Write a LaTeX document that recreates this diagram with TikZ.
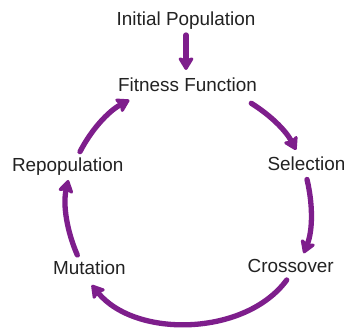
\documentclass[tikz,border=0pt]{standalone}
\usepackage{fontspec}
\setmainfont{Liberation Sans}
\usetikzlibrary{arrows.meta}
\definecolor{pur}{RGB}{126,30,140}
\definecolor{txt}{RGB}{34,34,34}
\begin{document}
\begin{tikzpicture}[x=1pt,y=1pt,
  lbl/.style={inner sep=0pt, anchor=base, text=txt, font=\fontsize{18.9}{22}\selectfont},
  arr/.style={draw=pur, line width=5.3pt, line cap=round,
    -{Stealth[length=15pt,width=18pt,inset=3pt,round]}}]
\useasboundingbox (0,0) rectangle (344,329);
\fill[white] (0,0) rectangle (344,329);
\node[lbl] (init) at (186,303) {Initial Population};
\node[lbl] (fit) at (187.5,237) {Fitness Function};
\node[lbl] (sel) at (306.5,158.5) {Selection};
\node[lbl] (cro) at (290.7,57) {Crossover};
\node[lbl] (mut) at (89.3,55) {Mutation};
\node[lbl] (rep) at (67.7,157.5) {Repopulation};
\draw[arr] ([shift={(0,-9)}]init.base) -- ([shift={(-1.5,22)}]fit.base);
\draw[arr] ([shift={(63.8,-11.3)}]fit.base) to[out=-31.8,in=117.4,looseness=0.87] ([shift={(-10.5,20.5)}]sel.base);
\draw[arr] ([shift={(0.5,-9)}]sel.base) to[out=-76.6,in=68.4,looseness=0.87] ([shift={(13,18.7)}]cro.base);
\draw[arr] ([shift={(-4,-8)}]cro.base) to[out=-126.2,in=-50.7,looseness=0.91] ([shift={(2.4,-11)}]mut.base);
\draw[arr] ([shift={(-12,19)}]mut.base) to[out=113.6,in=257.2,looseness=0.87] ([shift={(0.6,-8.5)}]rep.base);
\draw[arr] ([shift={(12.3,19.8)}]rep.base) to[out=62.7,in=208.3,looseness=0.87] ([shift={(-58.2,-8)}]fit.base);
\end{tikzpicture}
\end{document}
